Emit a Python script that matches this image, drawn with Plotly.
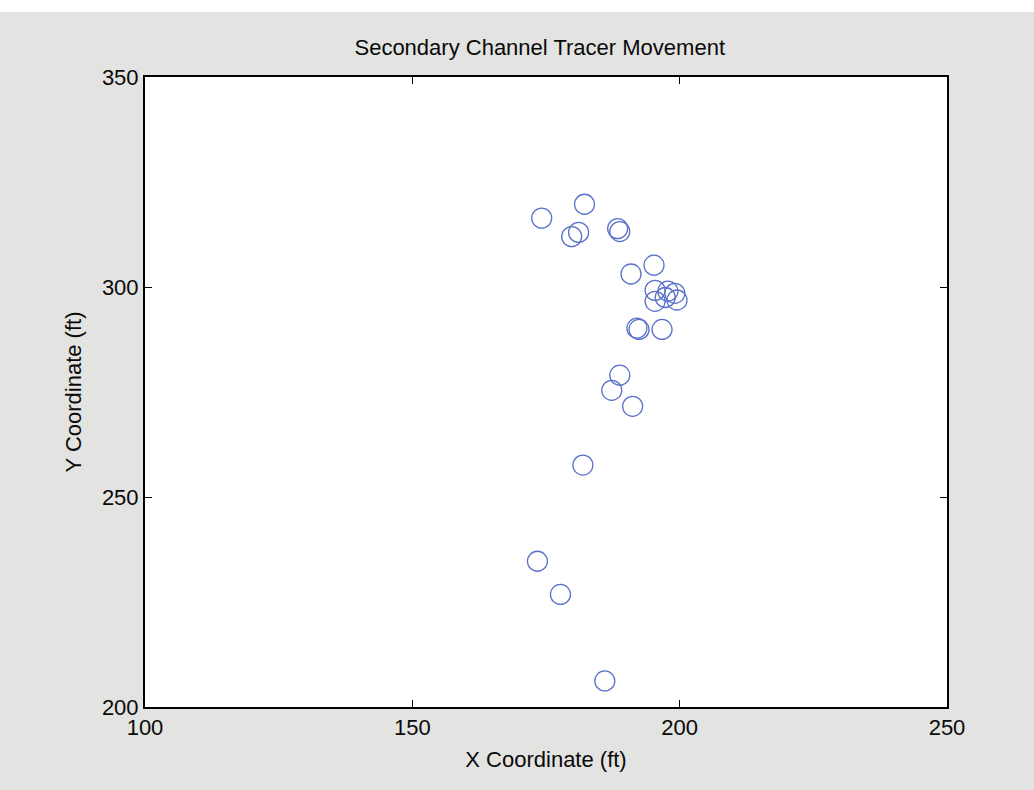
import plotly.graph_objects as go

# Tracer positions surveyed in the secondary channel (ft)
x_ft = [174.2, 182.2, 179.8, 181.1, 188.4, 188.8, 195.2, 190.9,
        195.4, 199.1, 197.3, 195.4, 199.5, 197.8,
        192.0, 192.4, 196.7, 188.8, 187.3, 191.2,
        181.9, 173.4, 177.7, 186.0]
y_ft = [316.4, 319.7, 312.0, 313.0, 313.9, 313.2, 305.2, 303.1,
        299.2, 298.5, 297.5, 296.6, 296.9, 299.0,
        290.2, 289.9, 289.9, 279.0, 275.4, 271.6,
        257.6, 234.7, 226.8, 206.2]

x_ticks = [100, 150, 200, 250]
y_ticks = [200, 250, 300, 350]

font_family = "Liberation Sans, Arial, sans-serif"
text_color = "#0a0a0a"

fig = go.Figure()
fig.add_trace(go.Scatter(
    x=x_ft, y=y_ft, mode="markers",
    marker=dict(symbol="circle-open", size=20, color="#5a72c8",
                line=dict(width=1.3, color="#5a72c8")),
    showlegend=False, hoverinfo="x+y",
))

axis_common = dict(
    showline=True, linecolor="black", linewidth=2, mirror="ticks",
    ticks="inside", ticklen=7, tickwidth=1, tickcolor="black",
    showgrid=False, zeroline=False,
    tickfont=dict(family=font_family, size=22, color=text_color),
)

fig.update_layout(
    width=1034, height=790,
    margin=dict(l=145, r=87, t=77, b=83),
    paper_bgcolor="#e3e3e1",
    plot_bgcolor="white",
    title=dict(text="Secondary Channel Tracer Movement",
               x=0.522, xanchor="center", y=1 - 47 / 790, yanchor="middle",
               font=dict(family=font_family, size=22, color=text_color)),
    xaxis=dict(range=[100, 250], tickvals=x_ticks, **axis_common,
               title=dict(text="X Coordinate (ft)", standoff=12,
                          font=dict(family=font_family, size=22, color=text_color))),
    yaxis=dict(range=[200, 350], tickvals=y_ticks, **axis_common,
               title=dict(text="Y Coordinate (ft)", standoff=14,
                          font=dict(family=font_family, size=22, color=text_color))),
    shapes=[dict(type="rect", xref="paper", yref="paper",
                 x0=-0.2, x1=1.2, y0=1.0 + 65 / 630, y1=1.2,
                 fillcolor="white", line=dict(width=0), layer="below")],
)

fig.write_html("out.html")
